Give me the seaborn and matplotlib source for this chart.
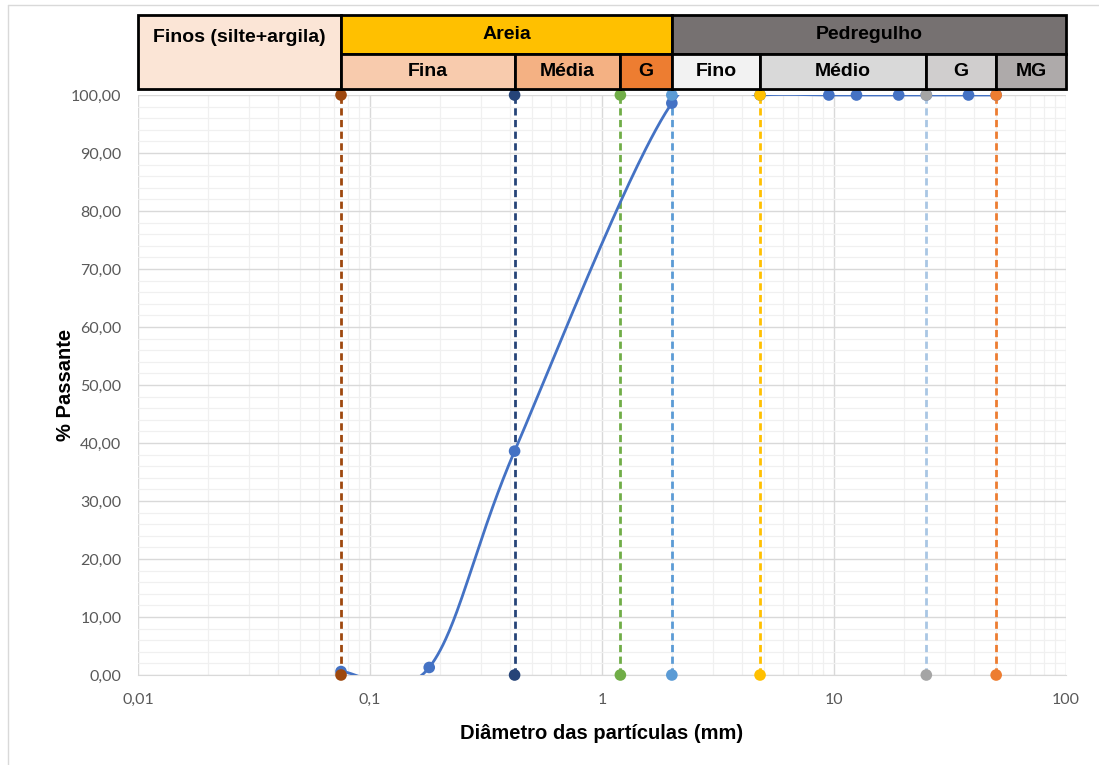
import numpy as np
import pandas as pd
import matplotlib
matplotlib.use("Agg")
import matplotlib.pyplot as plt
import matplotlib.patches as patches
from matplotlib.lines import Line2D
from matplotlib.ticker import FixedLocator, LogLocator, MultipleLocator, NullFormatter
import seaborn as sns

# curva granulometrica (peneiras)
diametro = [0.075, 0.18, 0.42, 2.0, 4.8, 9.5, 12.5, 19.0, 25.0, 38.0, 50.0]
passante = [0.6, 1.3, 38.6, 98.6, 100, 100, 100, 100, 100, 100, 100]

# linhas limite das classes
limites = [0.075, 0.42, 1.2, 2.0, 4.8, 25.0, 50.0]
cor_marcador = ["#9E480E", "#264478", "#70AD47", "#5B9BD5", "#FFC000", "#A5A5A5", "#ED7D31"]
cor_traco = ["#9E480E", "#264478", "#70AD47", "#5B9BD5", "#FFC000", "#A9C6E4", "#ED7D31"]

# cabecalho (classes)
classes_top = ["Finos (silte+argila)", "Areia", "Pedregulho"]
bordas_top = [0.01, 0.075, 2.0, 100]
cores_top = ["#FBE5D6", "#FFC000", "#767171"]
classes_sub = ["Fina", "Média", "G", "Fino", "Médio", "G", "MG"]
bordas_sub = [0.075, 0.42, 1.2, 2.0, 4.8, 25.0, 50.0, 100]
cores_sub = ["#F8CBAD", "#F4B183", "#ED7D31", "#F2F2F2", "#D9D9D9", "#D0CECE", "#AEAAAA"]

y_ticks = [0, 10, 20, 30, 40, 50, 60, 70, 80, 90, 100]
x_ticks = [0.01, 0.1, 1, 10, 100]
x_labels = ["0,01", "0,1", "1", "10", "100"]


def curva_suave(x, y, n=60):
    # linha suavizada tipo Excel (bezier com pontos de controle a 1/6)
    lx = np.log10(np.asarray(x, float))
    yy = np.asarray(y, float)
    P = np.column_stack([lx, yy])
    P = np.vstack([P[0], P, P[-1]])
    t = np.linspace(0, 1, n)[:, None]
    partes = []
    for i in range(1, len(P) - 2):
        p0, p1, p2, p3 = P[i - 1], P[i], P[i + 1], P[i + 2]
        c1 = p1 + (p2 - p0) / 6
        c2 = p2 - (p3 - p1) / 6
        b = ((1 - t) ** 3) * p1 + 3 * ((1 - t) ** 2) * t * c1 + 3 * (1 - t) * t ** 2 * c2 + t ** 3 * p2
        partes.append(b)
    b = np.vstack(partes)
    return 10 ** b[:, 0], b[:, 1]


sns.set_style("white")
plt.rcParams["font.family"] = ["Liberation Sans", "DejaVu Sans"]
plt.rcParams["text.color"] = "black"
plt.rcParams["axes.labelcolor"] = "black"

fig = plt.figure(figsize=(10.99, 7.65), dpi=100)
W, H = 1099, 765
ax = fig.add_axes([138 / W, 1 - 675 / H, 928 / W, 580 / H])
ax.set_xscale("log")
ax.set_xlim(0.01, 100)
ax.set_ylim(0, 100)

# grade
ax.xaxis.set_major_locator(FixedLocator(x_ticks))
ax.xaxis.set_minor_locator(LogLocator(base=10, subs=np.arange(2, 10)))
ax.xaxis.set_minor_formatter(NullFormatter())
ax.yaxis.set_major_locator(FixedLocator(y_ticks))
ax.yaxis.set_minor_locator(MultipleLocator(2))
ax.grid(True, which="major", color="#D9D9D9", lw=1.0)
ax.grid(True, which="minor", color="#F0F0F0", lw=0.9)
ax.set_axisbelow(True)
for s in ax.spines.values():
    s.set_visible(False)
ax.spines["bottom"].set_visible(True)
ax.spines["bottom"].set_color("#D9D9D9")
ax.tick_params(which="both", length=0)
ax.set_xticklabels(x_labels)
ax.set_yticklabels([f"{v:.2f}".replace(".", ",") for v in y_ticks])
for lab in ax.get_xticklabels() + ax.get_yticklabels():
    lab.set_family(["Lato", "DejaVu Sans"])
    lab.set_fontsize(11.5)
    lab.set_color("#595959")
ax.tick_params(axis="y", pad=12)
ax.tick_params(axis="x", pad=13)

# linhas limite tracejadas
for xv, cm, ct in zip(limites, cor_marcador, cor_traco):
    ax.plot([xv, xv], [0, 100], ls="--", dashes=(2.6, 1.6), color=ct, lw=2.0, zorder=3)
df_lim = pd.DataFrame({
    "d": limites * 2,
    "p": [0] * len(limites) + [100] * len(limites),
    "serie": [str(v) for v in limites] * 2,
})
sns.scatterplot(data=df_lim, x="d", y="p", hue="serie", palette=cor_marcador,
                s=70, edgecolor="none", legend=False, ax=ax, zorder=5, clip_on=False)

# curva granulometrica
xs, ys = curva_suave(diametro, passante)
ax.plot(xs, ys, color="#4472C4", lw=2.0, zorder=4)
df_curva = pd.DataFrame({"d": diametro, "p": passante})
sns.scatterplot(data=df_curva, x="d", y="p", color="#4472C4", s=70,
                edgecolor="none", ax=ax, zorder=4, clip_on=False)
# marcadores dos limites por cima
for coll in ax.collections[:1]:
    coll.set_zorder(6)

ax.set_xlabel("Diâmetro das partículas (mm)", fontsize=14.5, fontweight="bold", labelpad=12)
ax.set_ylabel("% Passante", fontsize=14.5, fontweight="bold", labelpad=-3)

# cabecalho
hx = fig.add_axes([138 / W, 1 - 89 / H, 928 / W, 74 / H])
hx.set_xscale("log")
hx.set_xlim(0.01, 100)
hx.set_ylim(0, 1)
hx.axis("off")
meio = 0.47
for i, (nome, cor) in enumerate(zip(classes_top, cores_top)):
    x0, x1 = bordas_top[i], bordas_top[i + 1]
    y0 = 0 if i == 0 else meio
    hx.add_patch(patches.Rectangle((x0, y0), x1 - x0, 1 - y0, facecolor=cor,
                                   edgecolor="black", lw=2, clip_on=False))
    hx.text(np.sqrt(x0 * x1), 0.69 if i == 0 else (y0 + 1) / 2, nome,
            ha="center", va="center", fontsize=14, fontweight="bold", color="black")
for i, (nome, cor) in enumerate(zip(classes_sub, cores_sub)):
    x0, x1 = bordas_sub[i], bordas_sub[i + 1]
    hx.add_patch(patches.Rectangle((x0, 0), x1 - x0, meio, facecolor=cor,
                                   edgecolor="black", lw=2, clip_on=False))
    hx.text(np.sqrt(x0 * x1), meio / 2, nome, ha="center", va="center",
            fontsize=14, fontweight="bold", color="black")

# moldura do grafico
fig.add_artist(Line2D([8 / W, 8 / W], [0, 1 - 5 / H], color="#D9D9D9", lw=1))
fig.add_artist(Line2D([8 / W, 1], [1 - 5 / H, 1 - 5 / H], color="#D9D9D9", lw=1))

fig.savefig("out.png", dpi=100)
